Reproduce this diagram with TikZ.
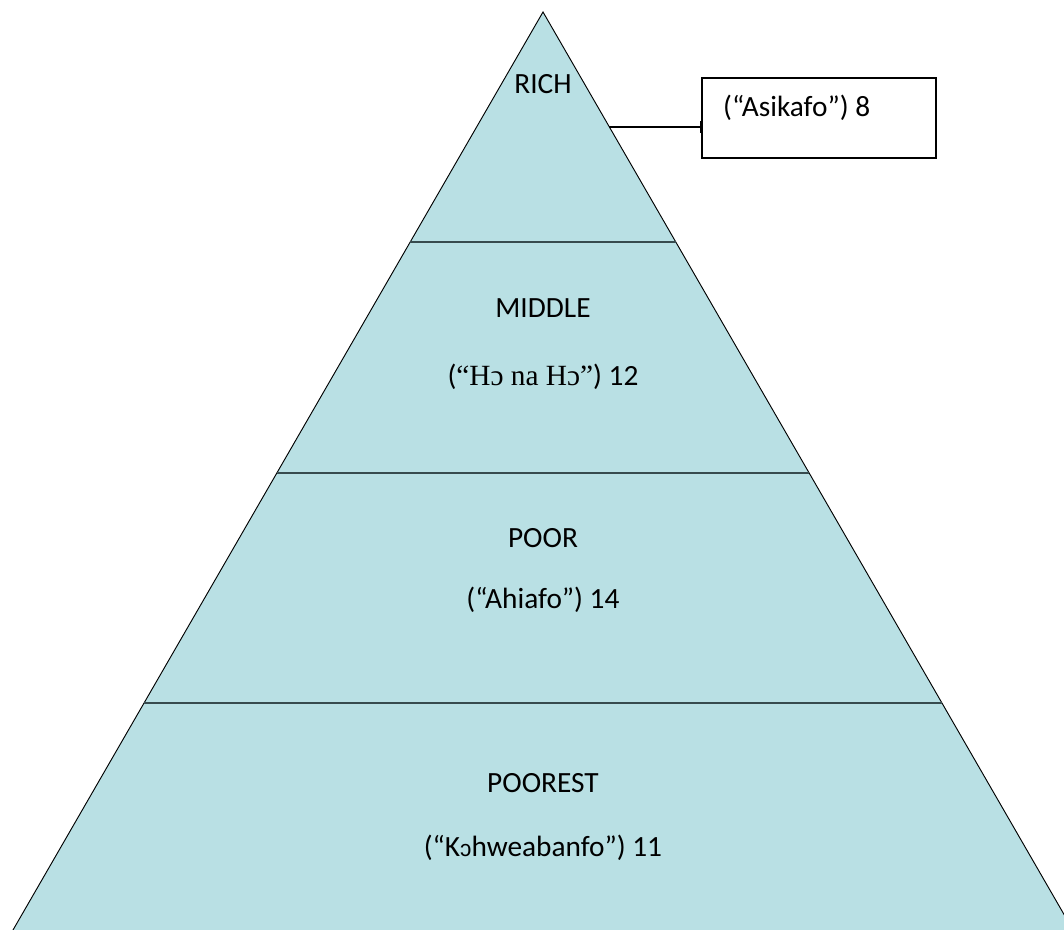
\documentclass[tikz,border=0pt]{standalone}
\usepackage{fontspec}
\setmainfont{Carlito}
\newfontfamily\timesfont{Liberation Serif}
\newfontfamily\ipafont{Liberation Sans}
\usepackage{xcolor}
\usepackage{tikz}
\usetikzlibrary{arrows.meta,positioning,calc}

\definecolor{pyrfill}{RGB}{185,224,228}
\definecolor{bandline}{RGB}{55,75,78}

\begin{document}
\begin{tikzpicture}[
    x=0.75pt, y=-0.75pt,
    layer/.style={font=\fontsize{22}{26}\selectfont, text=black},
    band/.style={draw=bandline, line width=1.4pt},
    tagbox/.style={draw, line width=0.9pt, minimum width=175.5pt, minimum height=60pt, inner sep=0pt},
    arrow/.style={-{Bar[width=9pt, line width=1.2pt]}, line width=0.9pt}
]

\clip (0,0) rectangle (1064,930);

% pyramid corners (base sits on the lower edge)
\coordinate (apex) at (543,12);
\coordinate (bl) at (13,930);
\coordinate (br) at (1073,930);

\fill[pyrfill, draw=black, line width=0.7pt]
    (apex) -- ($(apex)!1.05!(bl)$) -- ($(apex)!1.05!(br)$) -- cycle;

% dividing lines between the classes
\draw[band] ($(apex)!0.2505!(bl)$) -- ($(apex)!0.2505!(br)$);
\draw[band] ($(apex)!0.5022!(bl)$) -- ($(apex)!0.5022!(br)$);
\draw[band] ($(apex)!0.7527!(bl)$) -- ($(apex)!0.7527!(br)$);

\node[layer] (rich) at (543,84) {RICH};
\node[layer] (middle) at (543,308) {MIDDLE};
\node[layer] (middlename) at (543,377) {(\timesfont “Hɔ na Hɔ”\normalfont) 12};
\node[layer] (poor) at (543,538) {POOR};
\node[layer] (poorname) at (543,600) {(“Ahiafo”) 14};
\node[layer] (poorest) at (543,783) {POOREST};
\node[layer] (poorestname) at (543,848) {(“K{\ipafont\fontsize{17}{20}\selectfont ɔ}hweabanfo”) 11};

\node[tagbox] (asikafo) at (819,118) {};
\node[layer, anchor=west] (asikafotext) at ($(asikafo.west)+(17,-10)$) {(“Asikafo”) 8};

\coordinate (richedge) at ($(apex)!0.1253!(br)$);
\draw[arrow] (richedge) -- (richedge -| asikafo.west);

\end{tikzpicture}
\end{document}
